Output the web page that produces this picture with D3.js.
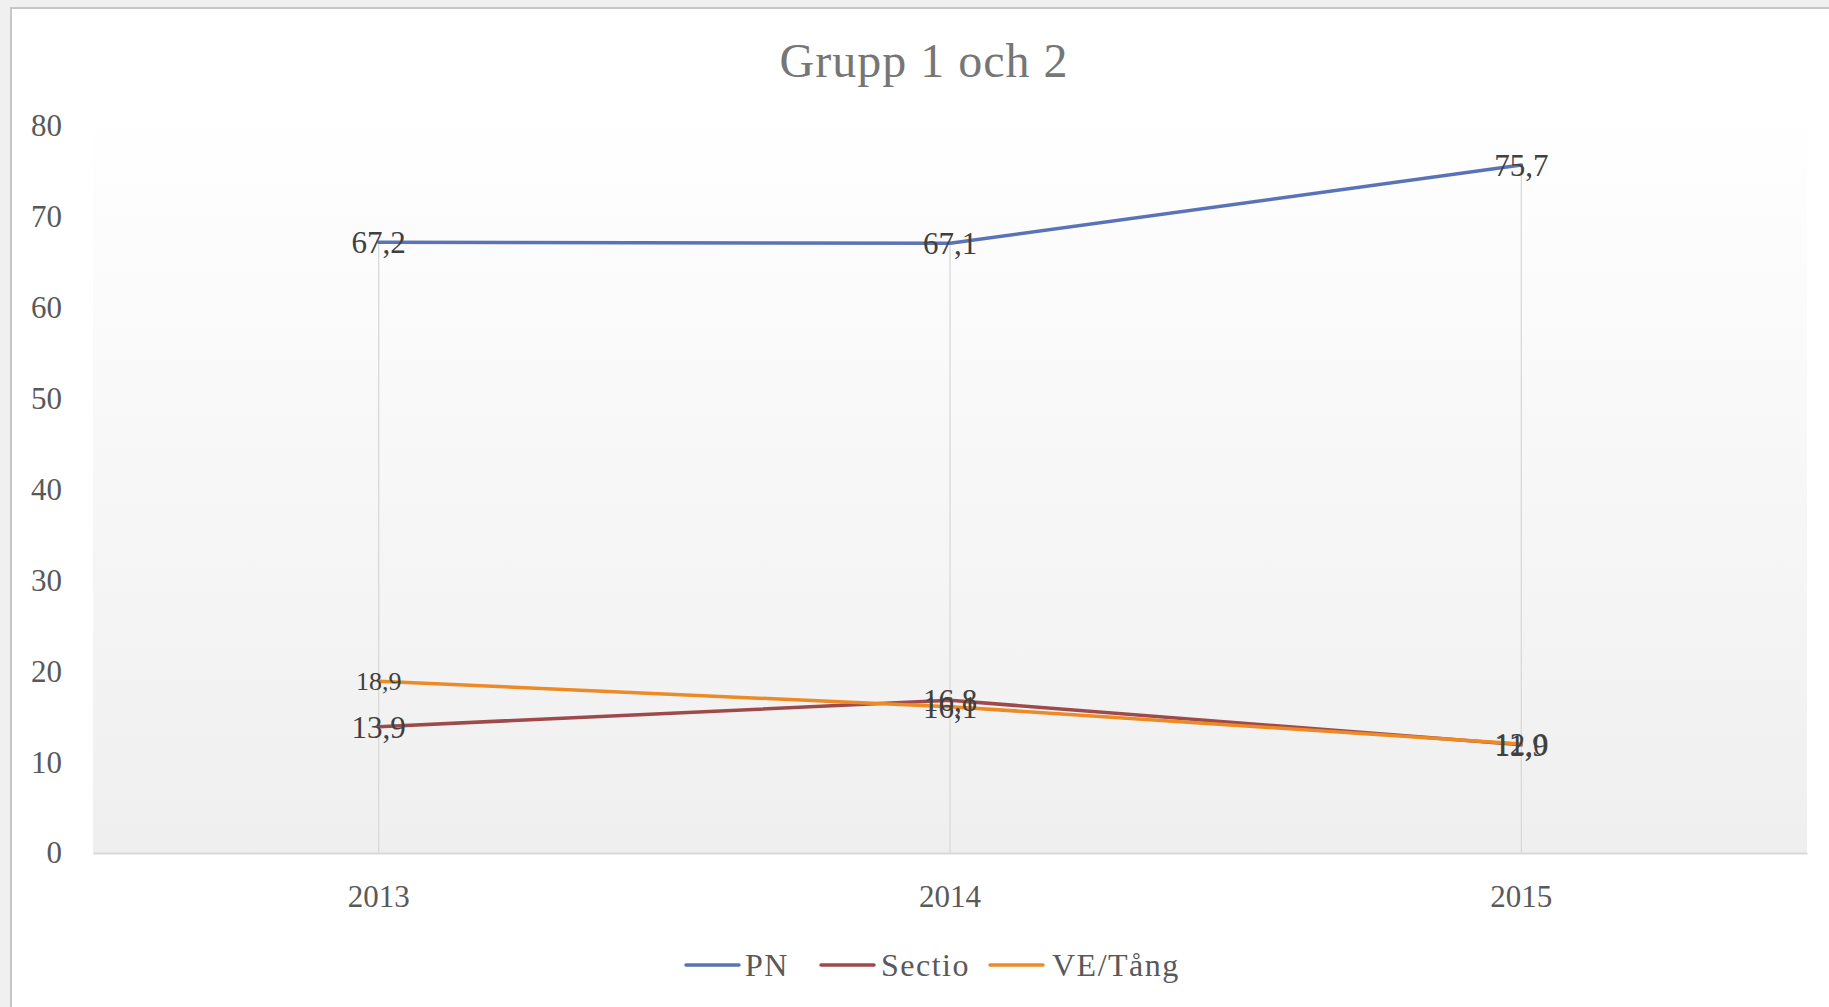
<!DOCTYPE html>
<html>
<head>
<meta charset="utf-8">
<script src="https://cdn.jsdelivr.net/npm/d3@7"></script>
<style>
  html, body { margin: 0; padding: 0; background: #f0f0f0; }
  svg { display: block; }
</style>
</head>
<body>
<svg id="chart" width="1829" height="1007"></svg>
<script>
// Grupp 1 och 2 — three lines over three years, Excel-style
const years = ['2013', '2014', '2015'];
const seriesNames = ['PN', 'Sectio', 'VE/Tång'];
const pnValues = [67.2, 67.1, 75.7];
const sectioValues = [13.9, 16.8, 11.9];
const veValues = [18.9, 16.1, 12.0];
const yTicks = [0, 10, 20, 30, 40, 50, 60, 70, 80];

const colors = ['#5a73b8', '#9e4a4b', '#ed8a25'];
const series = [pnValues, sectioValues, veValues].map((vals, i) => ({
  name: seriesNames[i], color: colors[i],
  points: vals.map((v, j) => ({ year: years[j], value: v }))
}));

const svg = d3.select('#chart');
const W = 1829, H = 1007;
const plotL = 93, plotR = 1807, plotT = 126, plotB = 853;
const serif = '"Liberation Serif", "DejaVu Serif", serif';

// chart frame
svg.append('rect').attr('x', 11).attr('y', 8).attr('width', W).attr('height', H)
  .attr('fill', '#fff').attr('stroke', '#c6c6c6').attr('stroke-width', 2);

// plot background gradient
const grad = svg.append('defs').append('linearGradient')
  .attr('id', 'plotbg').attr('x1', 0).attr('y1', 0).attr('x2', 0).attr('y2', 1);
grad.append('stop').attr('offset', '0%').attr('stop-color', '#ffffff');
grad.append('stop').attr('offset', '100%').attr('stop-color', '#efefef');
svg.append('rect').attr('x', plotL).attr('y', plotT - 20)
  .attr('width', plotR - plotL).attr('height', plotB - plotT + 20)
  .attr('fill', 'url(#plotbg)');

const x = d3.scaleBand().domain(years).range([plotL, plotR]);
const y = d3.scaleLinear().domain([0, 80]).range([plotB, plotT]);
const cx = d => x(d) + x.bandwidth() / 2;

// title
svg.append('text').attr('x', 924).attr('y', 77)
  .attr('text-anchor', 'middle').attr('font-family', serif)
  .attr('font-size', 48).attr('letter-spacing', 1).attr('fill', '#767676')
  .text('Grupp 1 och 2');

// y axis labels (no line)
const yAxis = d3.axisLeft(y).tickValues(yTicks).tickSize(0).tickPadding(0);
const yg = svg.append('g').attr('transform', 'translate(62,0)').call(yAxis);
yg.select('.domain').remove();
yg.selectAll('text').attr('font-family', serif).attr('font-size', 31)
  .attr('fill', '#595959');

// drop lines from highest point to axis
years.forEach((yr, j) => {
  const maxV = d3.max(series, s => s.points[j].value);
  svg.append('line')
    .attr('x1', cx(yr)).attr('x2', cx(yr))
    .attr('y1', y(maxV)).attr('y2', plotB)
    .attr('stroke', '#d9d9d9').attr('stroke-width', 1.3);
});

// x axis
const xAxis = d3.axisBottom(x).tickSize(0).tickPadding(45);
const xg = svg.append('g').attr('transform', `translate(0,${plotB})`).call(xAxis);
xg.select('.domain').attr('stroke', '#d9d9d9').attr('stroke-width', 2);
xg.selectAll('text').attr('font-family', serif).attr('font-size', 31)
  .attr('fill', '#595959').attr('dy', '0.3em');

// lines
const line = d3.line().x(d => cx(d.year)).y(d => y(d.value));
series.forEach(s => {
  svg.append('path').datum(s.points)
    .attr('d', line).attr('fill', 'none')
    .attr('stroke', s.color).attr('stroke-width', 3.5)
    .attr('stroke-linecap', 'round').attr('stroke-linejoin', 'round');
});

// data labels centered on points (the first VE/Tång label is set smaller in the original)
const fmt = v => d3.format('.1f')(v).replace('.', ',');
series.forEach((s, i) => {
  s.points.forEach((p, j) => {
    const small = i === 2 && j === 0;
    svg.append('text')
      .attr('x', cx(p.year)).attr('y', y(p.value)).attr('dy', '0.35em')
      .attr('text-anchor', 'middle').attr('font-family', serif)
      .attr('font-size', small ? 26 : 31).attr('fill', '#404040')
      .text(fmt(p.value));
  });
});

// legend
const legend = [
  { x0: 686, tx: 745 },
  { x0: 821, tx: 881 },
  { x0: 990, tx: 1052 }
];
series.forEach((s, i) => {
  const l = legend[i];
  svg.append('line').attr('x1', l.x0).attr('x2', l.x0 + 53)
    .attr('y1', 965).attr('y2', 965)
    .attr('stroke', s.color).attr('stroke-width', 3.5).attr('stroke-linecap', 'round');
  svg.append('text').attr('x', l.tx).attr('y', 976)
    .attr('font-family', serif).attr('font-size', 32).attr('letter-spacing', 1.5)
    .attr('fill', '#595959')
    .text(s.name);
});
</script>
</body>
</html>
